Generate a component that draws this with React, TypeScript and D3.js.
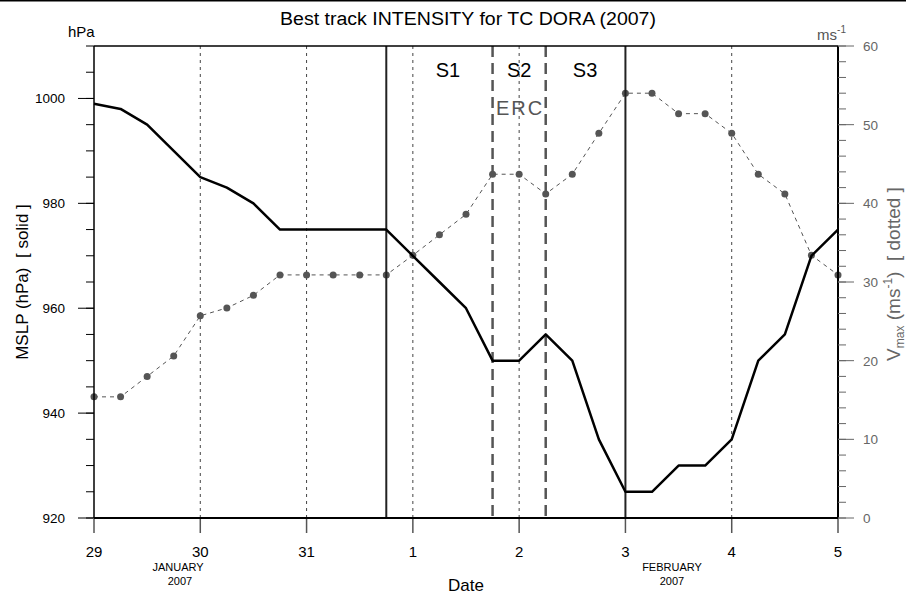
import React from "react";
import * as d3 from "d3";

const W = 906, H = 598;
const M = { left: 94, right: 838, top: 46, bottom: 518 };

// time in days from 29 Jan 00Z (6-hourly)
const mslp = [999, 998, 995, 990, 985, 983, 980, 975, 975, 975, 975, 975, 970, 965, 960, 950, 950, 955, 950, 935, 925, 925, 930, 930, 935, 950, 955, 970, 975];
const vmax = [15.4, 15.4, 18.0, 20.6, 25.7, 26.7, 28.3, 30.9, 30.9, 30.9, 30.9, 30.9, 33.4, 36.0, 38.6, 43.7, 43.7, 41.2, 43.7, 48.9, 54.0, 54.0, 51.4, 51.4, 48.9, 43.7, 41.2, 33.4, 30.9];
const dayLabels = ["29", "30", "31", "1", "2", "3", "4", "5"];
const leftTicks = [920, 940, 960, 980, 1000];
const rightTicks = [0, 10, 20, 30, 40, 50, 60];
const solidLines = [2.75, 5.0];
const dashedLines = [3.75, 4.25];
const gridDays = [1, 2, 3, 4, 6];
const stages = [{ t: "S1", x: 3.33 }, { t: "S2", x: 4.0 }, { t: "S3", x: 4.62 }];

export default function App() {
  const x = d3.scaleLinear().domain([0, 7]).range([M.left, M.right]);
  const yL = d3.scaleLinear().domain([920, 1010]).range([M.bottom, M.top]);
  const yR = d3.scaleLinear().domain([0, 60]).range([M.bottom, M.top]);
  const idx = mslp.map((_, i) => i * 0.25);
  const lineL = d3.line<number>().x((_, i) => x(idx[i])).y((d) => yL(d))(mslp) || "";
  const lineR = d3.line<number>().x((_, i) => x(idx[i])).y((d) => yR(d))(vmax) || "";
  const leftMinor = d3.range(920, 1011, 5);
  const rightMinor = d3.range(0, 61, 2);
  const font = "Liberation Sans, Arial, Helvetica, sans-serif";
  const gray = "#555";
  return (
    <svg width={W} height={H} style={{ position: "absolute", left: 0, top: 0 }} fontFamily={font}>
      <rect x={0} y={0} width={W} height={H} fill="#fff" />
      <line x1={0} x2={W} y1={0.75} y2={0.75} stroke="#000" strokeWidth={1.5} />
      {/* title */}
      <text x={468} y={25} textAnchor="middle" fontSize={18} textLength={376} lengthAdjust="spacingAndGlyphs">Best track INTENSITY for TC DORA (2007)</text>
      <text x={68} y={37} fontSize={15}>hPa</text>
      <text x={846} y={40} textAnchor="end" fontSize={15} fill={gray}>ms<tspan dy={-7} fontSize={10}>-1</tspan></text>
      {/* day grid lines */}
      {gridDays.map((d) => (
        <line key={"g" + d} x1={x(d)} x2={x(d)} y1={M.top} y2={M.bottom} stroke="#444" strokeWidth={1} strokeDasharray="3,4" />
      ))}
      {/* vmax line */}
      <path d={lineR} fill="none" stroke={gray} strokeWidth={1} strokeDasharray="4,4" />
      {vmax.map((v, i) => (
        <circle key={"c" + i} cx={x(idx[i])} cy={yR(v)} r={3.5} fill={gray} />
      ))}
      {/* stage lines */}
      {solidLines.map((d) => (
        <line key={"s" + d} x1={x(d)} x2={x(d)} y1={M.top} y2={M.bottom} stroke="#222" strokeWidth={2} />
      ))}
      {dashedLines.map((d) => (
        <line key={"d" + d} x1={x(d)} x2={x(d)} y1={M.top} y2={M.bottom} stroke={gray} strokeWidth={2.5} strokeDasharray="11,6" />
      ))}
      {/* mslp line */}
      <path d={lineL} fill="none" stroke="#000" strokeWidth={2.5} strokeLinejoin="round" />
      {/* stage labels */}
      {stages.map((s) => (
        <text key={s.t} x={x(s.x)} y={77} textAnchor="middle" fontSize={20}>{s.t}</text>
      ))}
      <text x={x(4) + 1} y={115} textAnchor="middle" fontSize={20} fill={gray} letterSpacing={2}>ERC</text>
      {/* frame */}
      <line x1={M.left} x2={M.right} y1={M.top} y2={M.top} stroke="#000" strokeWidth={1.5} />
      <line x1={M.left} x2={M.left} y1={M.top} y2={M.bottom} stroke="#000" strokeWidth={1.5} />
      <line x1={M.right} x2={M.right} y1={M.top} y2={M.bottom} stroke="#000" strokeWidth={2} />
      {/* left ticks */}
      {leftMinor.map((v) => (
        <line key={"lm" + v} x1={M.left - 8} x2={M.left} y1={yL(v)} y2={yL(v)} stroke="#000" strokeWidth={1} />
      ))}
      {leftTicks.map((v) => (
        <g key={"lt" + v}>
          <line x1={M.left - 16} x2={M.left} y1={yL(v)} y2={yL(v)} stroke="#000" strokeWidth={1} />
          <text x={65} y={yL(v) + 5} textAnchor="end" fontSize={13.5}>{v}</text>
        </g>
      ))}
      {/* right ticks */}
      {rightMinor.map((v) => (
        <line key={"rm" + v} x1={M.right} x2={M.right + 8} y1={yR(v)} y2={yR(v)} stroke="#666" strokeWidth={1} />
      ))}
      {rightTicks.map((v) => (
        <g key={"rt" + v}>
          <line x1={M.right} x2={M.right + 16} y1={yR(v)} y2={yR(v)} stroke="#666" strokeWidth={1} />
          <text x={863} y={yR(v) + 5} textAnchor="start" fontSize={13.5} fill="#666">{v}</text>
        </g>
      ))}
      {/* bottom ticks */}
      {dayLabels.map((lab, i) => (
        <g key={"b" + i}>
          <line x1={x(i)} x2={x(i)} y1={M.bottom} y2={M.bottom + 15} stroke="#555" strokeWidth={1.5} />
          <text x={x(i)} y={557} textAnchor="middle" fontSize={15}>{lab}</text>
        </g>
      ))}
      <line x1={M.left} x2={M.right} y1={M.bottom} y2={M.bottom} stroke="#000" strokeWidth={2} />
      <text x={178} y={571} textAnchor="middle" fontSize={11}>JANUARY</text>
      <text x={180} y={585} textAnchor="middle" fontSize={11}>2007</text>
      <text x={672} y={571} textAnchor="middle" fontSize={11}>FEBRUARY</text>
      <text x={672} y={585} textAnchor="middle" fontSize={11}>2007</text>
      <text x={466} y={591} textAnchor="middle" fontSize={17}>Date</text>
      {/* axis titles */}
      <text transform={`translate(28,282) rotate(-90)`} textAnchor="middle" fontSize={17}>{"MSLP (hPa)\u00a0\u00a0[ solid ]"}</text>
      <text transform={`translate(900,274) rotate(-90)`} textAnchor="middle" fontSize={19} fill="#666">
        V<tspan fontSize={12} dy={4}>max</tspan><tspan dy={-4}>{"\u00a0(ms"}</tspan><tspan fontSize={12} dy={-8}>-1</tspan><tspan dy={8}>{")\u00a0\u00a0[ dotted ]"}</tspan>
      </text>
    </svg>
  );
}
